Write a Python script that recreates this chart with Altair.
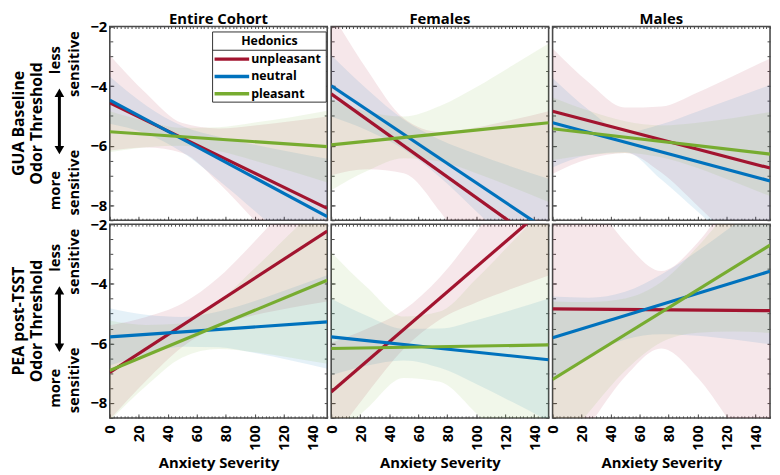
import altair as alt
import pandas as pd

FONT = "Open Sans"
SERIES = ["unpleasant", "neutral", "pleasant"]
COLORS = ["#A2142F", "#0072BD", "#77AC30"]
COL_TITLES = ["Entire Cohort", "Females", "Males"]
ROW_TITLES = [["GUA Baseline", "Odor Threshold"], ["PEA post-TSST", "Odor Threshold"]]
X_TITLE = "Anxiety Severity"

FIT_X = [0, 150]
BAND_X = [0, 25, 50, 75, 100, 125, 150]
X_MAJOR = [0, 20, 40, 60, 80, 100, 120, 140]
Y_MAJOR = [-8, -6, -4, -2]

# ---- GUA baseline, entire cohort ----
gua_all_unpl_fit = [-4.56, -8.10]
gua_all_unpl_lo = [-6.16, -6.06, -6.24, -7.24, -8.52, -9.84, -11.18]
gua_all_unpl_hi = [-2.96, -4.24, -5.24, -5.42, -5.32, -5.18, -5.02]
gua_all_neut_fit = [-4.47, -8.38]
gua_all_neut_lo = [-5.26, -5.59, -6.22, -7.16, -8.19, -9.25, -10.32]
gua_all_neut_hi = [-3.68, -4.65, -5.34, -5.70, -5.97, -6.21, -6.44]
gua_all_plea_fit = [-5.53, -6.03]
gua_all_plea_lo = [-6.22, -6.05, -6.00, -6.18, -6.50, -6.86, -7.23]
gua_all_plea_hi = [-4.84, -5.17, -5.40, -5.38, -5.22, -5.04, -4.83]

# ---- GUA baseline, females ----
gua_fem_unpl_fit = [-4.26, -9.48]
gua_fem_unpl_lo = [-6.99, -6.79, -6.92, -8.20, -10.09, -12.09, -14.12]
gua_fem_unpl_hi = [-1.53, -3.47, -5.08, -5.54, -5.39, -5.13, -4.84]
gua_fem_neut_fit = [-3.99, -8.87]
gua_fem_neut_lo = [-5.02, -5.49, -6.12, -7.06, -8.20, -9.39, -10.62]
gua_fem_neut_hi = [-2.96, -4.11, -5.12, -5.80, -6.28, -6.71, -7.11]
gua_fem_plea_fit = [-5.97, -5.23]
gua_fem_plea_lo = [-7.49, -6.84, -6.42, -6.53, -6.92, -7.39, -7.89]
gua_fem_plea_hi = [-4.45, -4.86, -5.02, -4.67, -4.04, -3.31, -2.57]

# ---- GUA baseline, males ----
gua_mal_unpl_fit = [-4.84, -6.75]
gua_mal_unpl_lo = [-6.94, -6.44, -6.24, -6.90, -8.01, -9.21, -10.43]
gua_mal_unpl_hi = [-2.74, -3.88, -4.72, -4.68, -4.21, -3.65, -3.07]
gua_mal_neut_fit = [-5.23, -7.18]
gua_mal_neut_lo = [-6.73, -6.31, -6.21, -7.13, -8.21, -9.30, -10.40]
gua_mal_neut_hi = [-3.73, -4.80, -5.55, -5.28, -4.85, -4.41, -3.96]
gua_mal_plea_fit = [-5.43, -6.28]
gua_mal_plea_lo = [-6.48, -6.31, -6.24, -6.39, -6.75, -7.21, -7.69]
gua_mal_plea_hi = [-4.38, -4.83, -5.18, -5.32, -5.23, -5.07, -4.87]

# ---- PEA post-TSST, entire cohort ----
pea_all_unpl_fit = [-6.97, -2.23]
pea_all_unpl_lo = [-8.55, -7.25, -6.12, -5.41, -5.05, -4.80, -4.59]
pea_all_unpl_hi = [-5.39, -5.11, -4.66, -3.79, -2.57, -1.24, 0.13]
pea_all_neut_fit = [-5.78, -5.28]
pea_all_neut_lo = [-6.74, -6.36, -6.11, -6.13, -6.32, -6.57, -6.85]
pea_all_neut_hi = [-4.82, -5.04, -5.11, -4.93, -4.58, -4.15, -3.71]
pea_all_plea_fit = [-6.91, -3.88]
pea_all_plea_lo = [-8.59, -7.43, -6.47, -6.19, -6.30, -6.48, -6.68]
pea_all_plea_hi = [-5.23, -5.38, -5.33, -4.60, -3.48, -2.29, -1.08]

# ---- PEA post-TSST, females ----
pea_fem_unpl_fit = [-7.63, -1.34]
pea_fem_unpl_lo = [-9.28, -7.66, -6.19, -5.20, -4.63, -4.16, -3.72]
pea_fem_unpl_hi = [-5.98, -5.50, -4.88, -3.78, -2.25, -0.62, 1.04]
pea_fem_neut_fit = [-5.78, -6.55]
pea_fem_neut_lo = [-7.07, -6.74, -6.57, -6.82, -7.36, -7.97, -8.61]
pea_fem_neut_hi = [-4.49, -5.08, -5.51, -5.50, -5.22, -4.87, -4.49]
pea_fem_plea_fit = [-6.17, -6.05]
pea_fem_plea_lo = [-9.40, -8.17, -7.16, -7.29, -8.34, -9.55, -10.78]
pea_fem_plea_hi = [-2.94, -4.13, -5.10, -4.93, -3.84, -2.59, -1.32]

# ---- PEA post-TSST, males ----
pea_mal_unpl_fit = [-4.84, -4.90]
pea_mal_unpl_lo = [-10.55, -8.78, -7.12, -6.17, -7.14, -8.82, -10.61]
pea_mal_unpl_hi = [0.87, -0.92, -2.60, -3.57, -2.62, -0.96, 0.81]
pea_mal_neut_fit = [-5.81, -3.58]
pea_mal_neut_lo = [-7.19, -6.41, -5.87, -5.69, -5.74, -5.87, -6.03]
pea_mal_neut_hi = [-4.43, -4.47, -4.27, -3.69, -2.90, -2.03, -1.13]
pea_mal_plea_fit = [-7.21, -2.70]
pea_mal_plea_lo = [-9.83, -8.31, -6.92, -5.96, -5.64, -5.60, -5.65]
pea_mal_plea_hi = [-4.59, -4.61, -4.49, -3.94, -2.76, -1.30, 0.25]

PANEL_DATA = [
    [
        ([gua_all_unpl_fit, gua_all_neut_fit, gua_all_plea_fit],
         [gua_all_unpl_lo, gua_all_neut_lo, gua_all_plea_lo],
         [gua_all_unpl_hi, gua_all_neut_hi, gua_all_plea_hi]),
        ([gua_fem_unpl_fit, gua_fem_neut_fit, gua_fem_plea_fit],
         [gua_fem_unpl_lo, gua_fem_neut_lo, gua_fem_plea_lo],
         [gua_fem_unpl_hi, gua_fem_neut_hi, gua_fem_plea_hi]),
        ([gua_mal_unpl_fit, gua_mal_neut_fit, gua_mal_plea_fit],
         [gua_mal_unpl_lo, gua_mal_neut_lo, gua_mal_plea_lo],
         [gua_mal_unpl_hi, gua_mal_neut_hi, gua_mal_plea_hi]),
    ],
    [
        ([pea_all_unpl_fit, pea_all_neut_fit, pea_all_plea_fit],
         [pea_all_unpl_lo, pea_all_neut_lo, pea_all_plea_lo],
         [pea_all_unpl_hi, pea_all_neut_hi, pea_all_plea_hi]),
        ([pea_fem_unpl_fit, pea_fem_neut_fit, pea_fem_plea_fit],
         [pea_fem_unpl_lo, pea_fem_neut_lo, pea_fem_plea_lo],
         [pea_fem_unpl_hi, pea_fem_neut_hi, pea_fem_plea_hi]),
        ([pea_mal_unpl_fit, pea_mal_neut_fit, pea_mal_plea_fit],
         [pea_mal_unpl_lo, pea_mal_neut_lo, pea_mal_plea_lo],
         [pea_mal_unpl_hi, pea_mal_neut_hi, pea_mal_plea_hi]),
    ],
]

W, H = 220, 196
FRAME = "#4a4a4a"
ONE = pd.DataFrame({"k": [0]})
color_scale = alt.Scale(domain=SERIES, range=COLORS)
x_scale = alt.Scale(domain=[0, 150], nice=False, zero=False)
y_scale = alt.Scale(domain=[-8.5, -2], nice=False, zero=False)
Y_MINOR = [-8.5 + 0.5 * i for i in range(14)]
X_MINOR = [2.5 * i for i in range(61)]


def txt(text, x, y, size, angle=None, align="center", baseline="middle"):
    kw = dict(text=text, font=FONT, fontSize=size, fontWeight="bold",
              color="black", align=align, baseline=baseline)
    if angle is not None:
        kw["angle"] = angle
    return alt.Chart(ONE).mark_text(**kw).encode(x=alt.value(x), y=alt.value(y))


def tick_axis(orient, values, size):
    return alt.Axis(orient=orient, values=values, tickSize=size, offset=-size,
                    domain=False, grid=False, tickColor=FRAME, labels=False,
                    title=None)


def panel(r, c):
    fits, los, his = PANEL_DATA[r][c]
    band_rows, line_rows = [], []
    for s, lo, hi in zip(SERIES, los, his):
        for x, l, h in zip(BAND_X, lo, hi):
            band_rows.append({"series": s, "x": x, "lo": l, "hi": h})
    for s, f in zip(SERIES, fits):
        for x, y in zip(FIT_X, f):
            line_rows.append({"series": s, "x": x, "y": y})
    bands_df = pd.DataFrame(band_rows)
    lines_df = pd.DataFrame(line_rows)

    bottom_axis = alt.Axis(
        orient="bottom", values=X_MAJOR, format="d", tickSize=4, offset=-4,
        domain=False, grid=False, tickColor=FRAME, labels=(r == 1),
        labelAngle=270, labelAlign="right", labelBaseline="middle",
        labelPadding=7, labelFont=FONT, labelFontSize=15, labelFontWeight="bold",
        labelColor="black", labelFlush=False, labelOverlap=False,
        title=X_TITLE if r == 1 else None, titleFont=FONT, titleFontSize=15,
        titleFontWeight="bold", titleColor="black", titlePadding=5)
    left_axis = alt.Axis(
        orient="left", values=Y_MAJOR, format="d", tickSize=4, offset=-4,
        domain=False, grid=False, tickColor=FRAME, labels=(c == 0),
        labelPadding=3, labelFont=FONT, labelFontSize=15, labelFontWeight="bold",
        labelColor="black", labelFlush=False, labelOverlap=False, title=None)

    bands = alt.Chart(bands_df).mark_area(
        clip=True, fillOpacity=0.1, interpolate="monotone").encode(
        x=alt.X("x:Q", scale=x_scale, axis=bottom_axis),
        y=alt.Y("lo:Q", scale=y_scale, axis=left_axis),
        y2="hi:Q",
        color=alt.Color("series:N", scale=color_scale, legend=None),
    )
    lines = alt.Chart(lines_df).mark_line(clip=True, strokeWidth=3.2).encode(
        x=alt.X("x:Q", scale=x_scale, axis=tick_axis("top", X_MINOR, 2)),
        y=alt.Y("y:Q", scale=y_scale, axis=tick_axis("right", Y_MINOR, 3)),
        color=alt.Color("series:N", scale=color_scale, legend=None),
    )
    minor = alt.Chart(lines_df).mark_line(clip=True, opacity=0).encode(
        x=alt.X("x:Q", scale=x_scale, axis=tick_axis("bottom", X_MINOR, 2)),
        y=alt.Y("y:Q", scale=y_scale, axis=tick_axis("left", Y_MINOR, 3)),
        detail="series:N",
    )
    layers = [bands, minor, lines]

    if r == 0:
        layers.append(txt(COL_TITLES[c], W / 2, -8, 15))

    if c == 0:
        t1, t2 = ROW_TITLES[r]
        layers += [
            alt.Chart(ONE).mark_rule(opacity=0).encode(
                x=alt.value(-102), x2=alt.value(-101), y=alt.value(100)),
            txt(t1, -92, 98, 16, angle=270),
            txt(t2, -74, 98, 16, angle=270),
            txt("less", -55, 34, 15, angle=270),
            txt("sensitive", -36, 38, 15, angle=270),
            txt("more", -55, 166, 15, angle=270),
            txt("sensitive", -36, 158, 15, angle=270),
            alt.Chart(ONE).mark_rule(color="black", strokeWidth=3).encode(
                x=alt.value(-51), y=alt.value(68), y2=alt.value(124)),
            alt.Chart(ONE).mark_point(shape="triangle-up", filled=True, size=95,
                                      color="black", opacity=1).encode(
                x=alt.value(-51), y=alt.value(67)),
            alt.Chart(ONE).mark_point(shape="triangle-down", filled=True, size=95,
                                      color="black", opacity=1).encode(
                x=alt.value(-51), y=alt.value(125)),
        ]

    if r == 0 and c == 0:
        layers += [
            alt.Chart(ONE).mark_rect(fill="white", stroke="#333333", strokeWidth=1).encode(
                x=alt.value(104), x2=alt.value(219), y=alt.value(5.5), y2=alt.value(76.5)),
            alt.Chart(ONE).mark_rule(color="#333333", strokeWidth=1).encode(
                x=alt.value(104), x2=alt.value(219), y=alt.value(24)),
            txt("Hedonics", 161.5, 15, 12.5),
        ]
        for i, (s, col) in enumerate(zip(SERIES, COLORS)):
            yy = 33 + 17.5 * i
            layers += [
                alt.Chart(ONE).mark_rule(color=col, strokeWidth=3.5).encode(
                    x=alt.value(106), x2=alt.value(141), y=alt.value(yy)),
                txt(s, 143, yy, 12.5, align="left"),
            ]

    return alt.layer(*layers).resolve_axis(
        x="independent", y="independent").properties(width=W, height=H)


panels = [panel(r, c) for r in range(2) for c in range(3)]
chart = alt.concat(*panels, columns=3, spacing=4, bounds="flush").properties(
    padding=0, background="white"
).configure_view(stroke=FRAME, strokeWidth=1.6)

chart.save("out.html", embed_options={"renderer": "svg", "actions": False})
